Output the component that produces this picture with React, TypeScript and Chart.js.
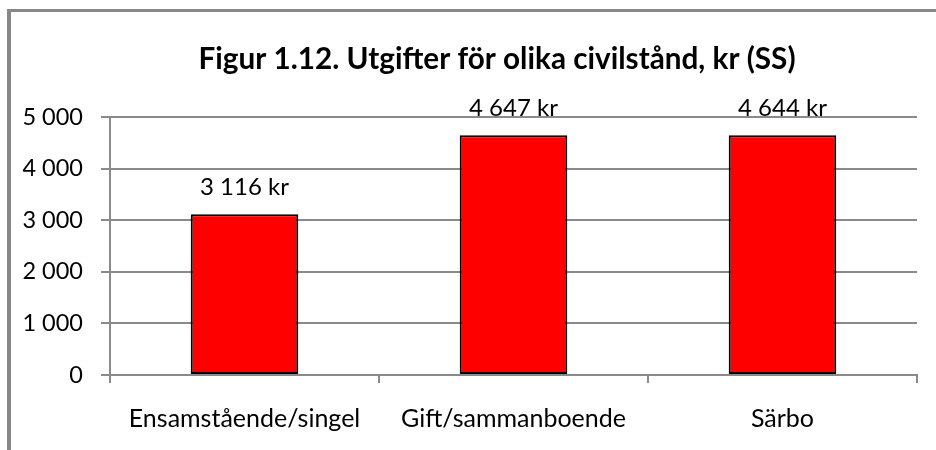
import React, { useEffect, useRef } from "react";
import { Chart, registerables } from "chart.js";

Chart.register(...registerables);

const titleText = "Figur 1.12. Utgifter för olika civilstånd, kr (SS)";
const categories = ["Ensamstående/singel", "Gift/sammanboende", "Särbo"];
const values = [3116, 4647, 4644];
const yMin = 0;
const yMax = 5000;
const yStep = 1000;

const FONT = "Lato";
const GRID = "#8a8a8a";

function fmt(n: number): string {
  return String(n).replace(/\B(?=(\d{3})+(?!\d))/g, " ");
}

const overlayPlugin = {
  id: "overlay",
  afterDatasetsDraw(chart: any) {
    const ctx = chart.ctx;
    ctx.save();
    ctx.fillStyle = "#000";
    ctx.font = `24px ${FONT}`;
    ctx.textAlign = "center";
    ctx.textBaseline = "alphabetic";
    const meta = chart.getDatasetMeta(0);
    meta.data.forEach((bar: any, i: number) => {
      const v = chart.data.datasets[0].data[i] as number;
      ctx.fillText(`${fmt(v)} kr`, bar.x, bar.y - 19);
    });
    ctx.font = `bold 29.7px ${FONT}`;
    ctx.fillText(titleText, 497, 69);
    ctx.restore();
  },
};

export default function App() {
  const ref = useRef<HTMLCanvasElement | null>(null);

  useEffect(() => {
    let chart: Chart | null = null;
    let cancelled = false;
    const make = () => {
      if (cancelled || !ref.current) return;
      chart = new Chart(ref.current, {
        type: "bar",
        data: {
          labels: categories,
          datasets: [
            {
              data: values,
              backgroundColor: "#ff0000",
              borderColor: "#000000",
              borderWidth: 2,
              borderSkipped: false,
              categoryPercentage: 1,
              barPercentage: 0.4,
            },
          ],
        },
        options: {
          responsive: false,
          animation: false,
          devicePixelRatio: 1,
          layout: { padding: { top: 117, right: 19, left: 0, bottom: 0 } },
          plugins: {
            legend: { display: false },
            title: { display: false },
            tooltip: { enabled: false },
          },
          scales: {
            x: {
              z: 1,
              grid: {
                display: true,
                drawOnChartArea: false,
                drawTicks: true,
                tickLength: 8,
                color: GRID,
                lineWidth: 2,
              },
              border: { display: true, color: GRID, width: 2 },
              ticks: {
                color: "#000",
                font: { family: FONT, size: 25 },
                padding: 21,
                maxRotation: 0,
                autoSkip: false,
              },
              afterFit: (s: any) => {
                s.height = 75;
              },
            },
            y: {
              min: yMin,
              max: yMax,
              grid: {
                color: GRID,
                lineWidth: 2,
                drawTicks: true,
                tickLength: 9,
              },
              border: { display: true, color: GRID, width: 2 },
              ticks: {
                stepSize: yStep,
                color: "#000",
                font: { family: FONT, size: 23.5 },
                padding: 18,
                callback: (v: any) => fmt(Number(v)),
              },
              afterFit: (s: any) => {
                s.width = 110;
              },
            },
          },
        },
        plugins: [overlayPlugin],
      });
    };
    const fontsReady = (document as any).fonts
      ? Promise.all([
          (document as any).fonts.load(`24px ${FONT}`),
          (document as any).fonts.load(`bold 29px ${FONT}`),
        ]).catch(() => null)
      : Promise.resolve(null);
    fontsReady.then(make);
    return () => {
      cancelled = true;
      if (chart) chart.destroy();
    };
  }, []);

  return (
    <div
      style={{
        position: "fixed",
        left: 0,
        top: 0,
        width: 936,
        height: 450,
        overflow: "hidden",
        background: "#fff",
      }}
    >
      <div
        style={{
          position: "absolute",
          left: 7,
          top: 9,
          width: 1200,
          height: 800,
          borderLeft: "4px solid #888",
          borderTop: "3px solid #888",
        }}
      />
      <canvas
        ref={ref}
        width={936}
        height={450}
        style={{ position: "absolute", left: 0, top: 0, width: 936, height: 450 }}
      />
    </div>
  );
}
